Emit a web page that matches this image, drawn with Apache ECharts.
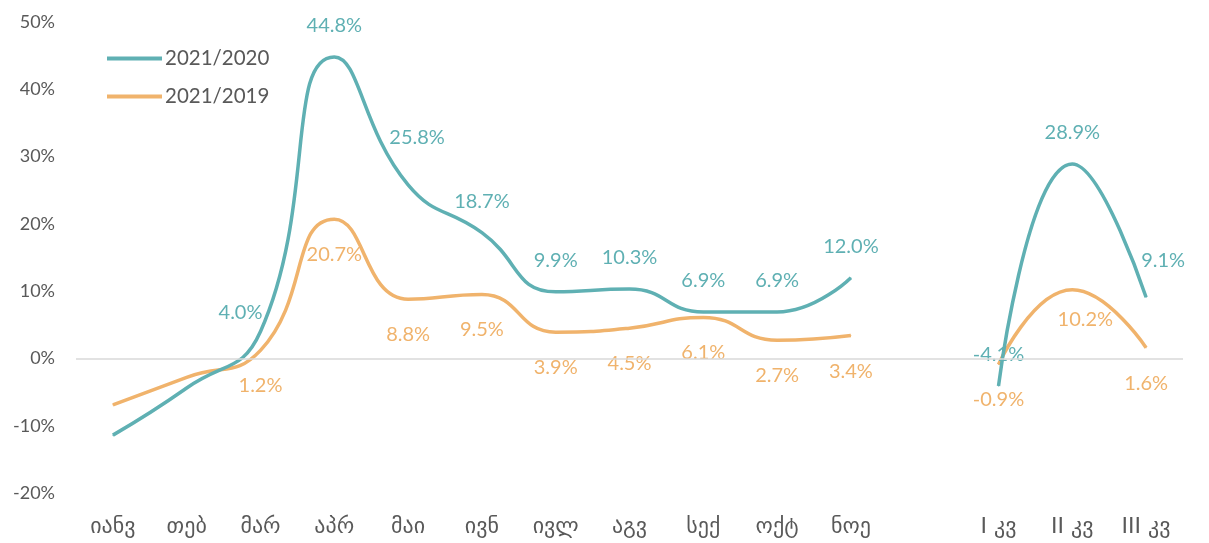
<!DOCTYPE html>
<html>
<head>
<meta charset="utf-8">
<script src="https://cdn.jsdelivr.net/npm/echarts@6/dist/echarts.min.js"></script>
<style>
  html, body { margin: 0; padding: 0; background: #fff; }
  #chart { width: 1209px; height: 543px; }
</style>
</head>
<body>
<div id="chart"></div>
<script>
// categories (empty slot separates months from quarters)
const categories = ['იანვ', 'თებ', 'მარ', 'აპრ', 'მაი', 'ივნ', 'ივლ', 'აგვ', 'სექ', 'ოქტ', 'ნოე', '', 'I კვ', 'II კვ', 'III კვ']
const seriesNames = ['2021/2020', '2021/2019']
const vs2020 = [-11.4, -4.4, 4.0, 44.8, 25.8, 18.7, 9.9, 10.3, 6.9, 6.9, 12.0, null, -4.1, 28.9, 9.1]
const vs2019 = [-6.9, -2.8, 1.2, 20.7, 8.8, 9.5, 3.9, 4.5, 6.1, 2.7, 3.4, null, -0.9, 10.2, 1.6]
// points without a printed value
const noLabel = [0, 1]

const teal = '#5fb0b3'
const orange = '#f0b36c'
const font = 'Lato'

// label nudges
const tealOffsets = { 2: [-20, 13], 4: [9, -16], 14: [17, -5] }
const orangeOffsets = { 13: [13, -6] }

function points(values, offsets) {
	return values.map((v, i) => {
		if (v === null) return null
		const item = { value: v }
		if (noLabel.indexOf(i) >= 0) item.label = { show: false }
		else if (offsets[i]) item.label = { offset: offsets[i] }
		return item
	})
}

const chart = echarts.init(document.getElementById('chart'))
chart.setOption({
	animation: false,
	grid: { left: 76, right: 26, top: 22, bottom: 50 },
	legend: {
		orient: 'vertical',
		left: 107,
		top: 48,
		padding: 0,
		icon: 'rect',
		itemWidth: 55,
		itemHeight: 4,
		itemGap: 17,
		textStyle: { fontFamily: font, fontSize: 20.5, color: '#595959', lineHeight: 20, padding: [0, 0, 0, -2] },
		data: seriesNames
	},
	xAxis: {
		type: 'category',
		data: categories,
		axisLine: { show: false },
		axisTick: { show: false },
		axisLabel: { fontFamily: 'DejaVu Sans', fontSize: 22, color: '#595959', margin: 23, interval: 0 }
	},
	yAxis: {
		type: 'value',
		min: -20,
		max: 50,
		interval: 10,
		splitLine: { show: false },
		axisLine: { show: false },
		axisTick: { show: false },
		axisLabel: { fontFamily: font, fontSize: 18, color: '#595959', margin: 21, formatter: v => v + '%' }
	},
	series: [
		{
			name: seriesNames[0],
			type: 'line',
			smooth: 0.5,
			connectNulls: false,
			symbol: 'circle',
			symbolSize: 1,
			z: 3,
			itemStyle: { color: teal },
			lineStyle: { color: teal, width: 3.5 },
			label: {
				show: true, position: 'top', distance: 21,
				fontFamily: font, fontSize: 20, color: teal,
				formatter: p => p.value.toFixed(1) + '%'
			},
			markLine: {
				silent: true, symbol: 'none', label: { show: false },
				lineStyle: { color: '#d9d9d9', type: 'solid', width: 1.5 },
				data: [{ yAxis: 0 }]
			},
			data: points(vs2020, tealOffsets)
		},
		{
			name: seriesNames[1],
			type: 'line',
			smooth: 0.5,
			connectNulls: false,
			symbol: 'circle',
			symbolSize: 1,
			z: 2,
			itemStyle: { color: orange },
			lineStyle: { color: orange, width: 3.5 },
			label: {
				show: true, position: 'bottom', distance: 25,
				fontFamily: font, fontSize: 20, color: orange,
				formatter: p => p.value.toFixed(1) + '%'
			},
			data: points(vs2019, orangeOffsets)
		}
	]
})
</script>
</body>
</html>
